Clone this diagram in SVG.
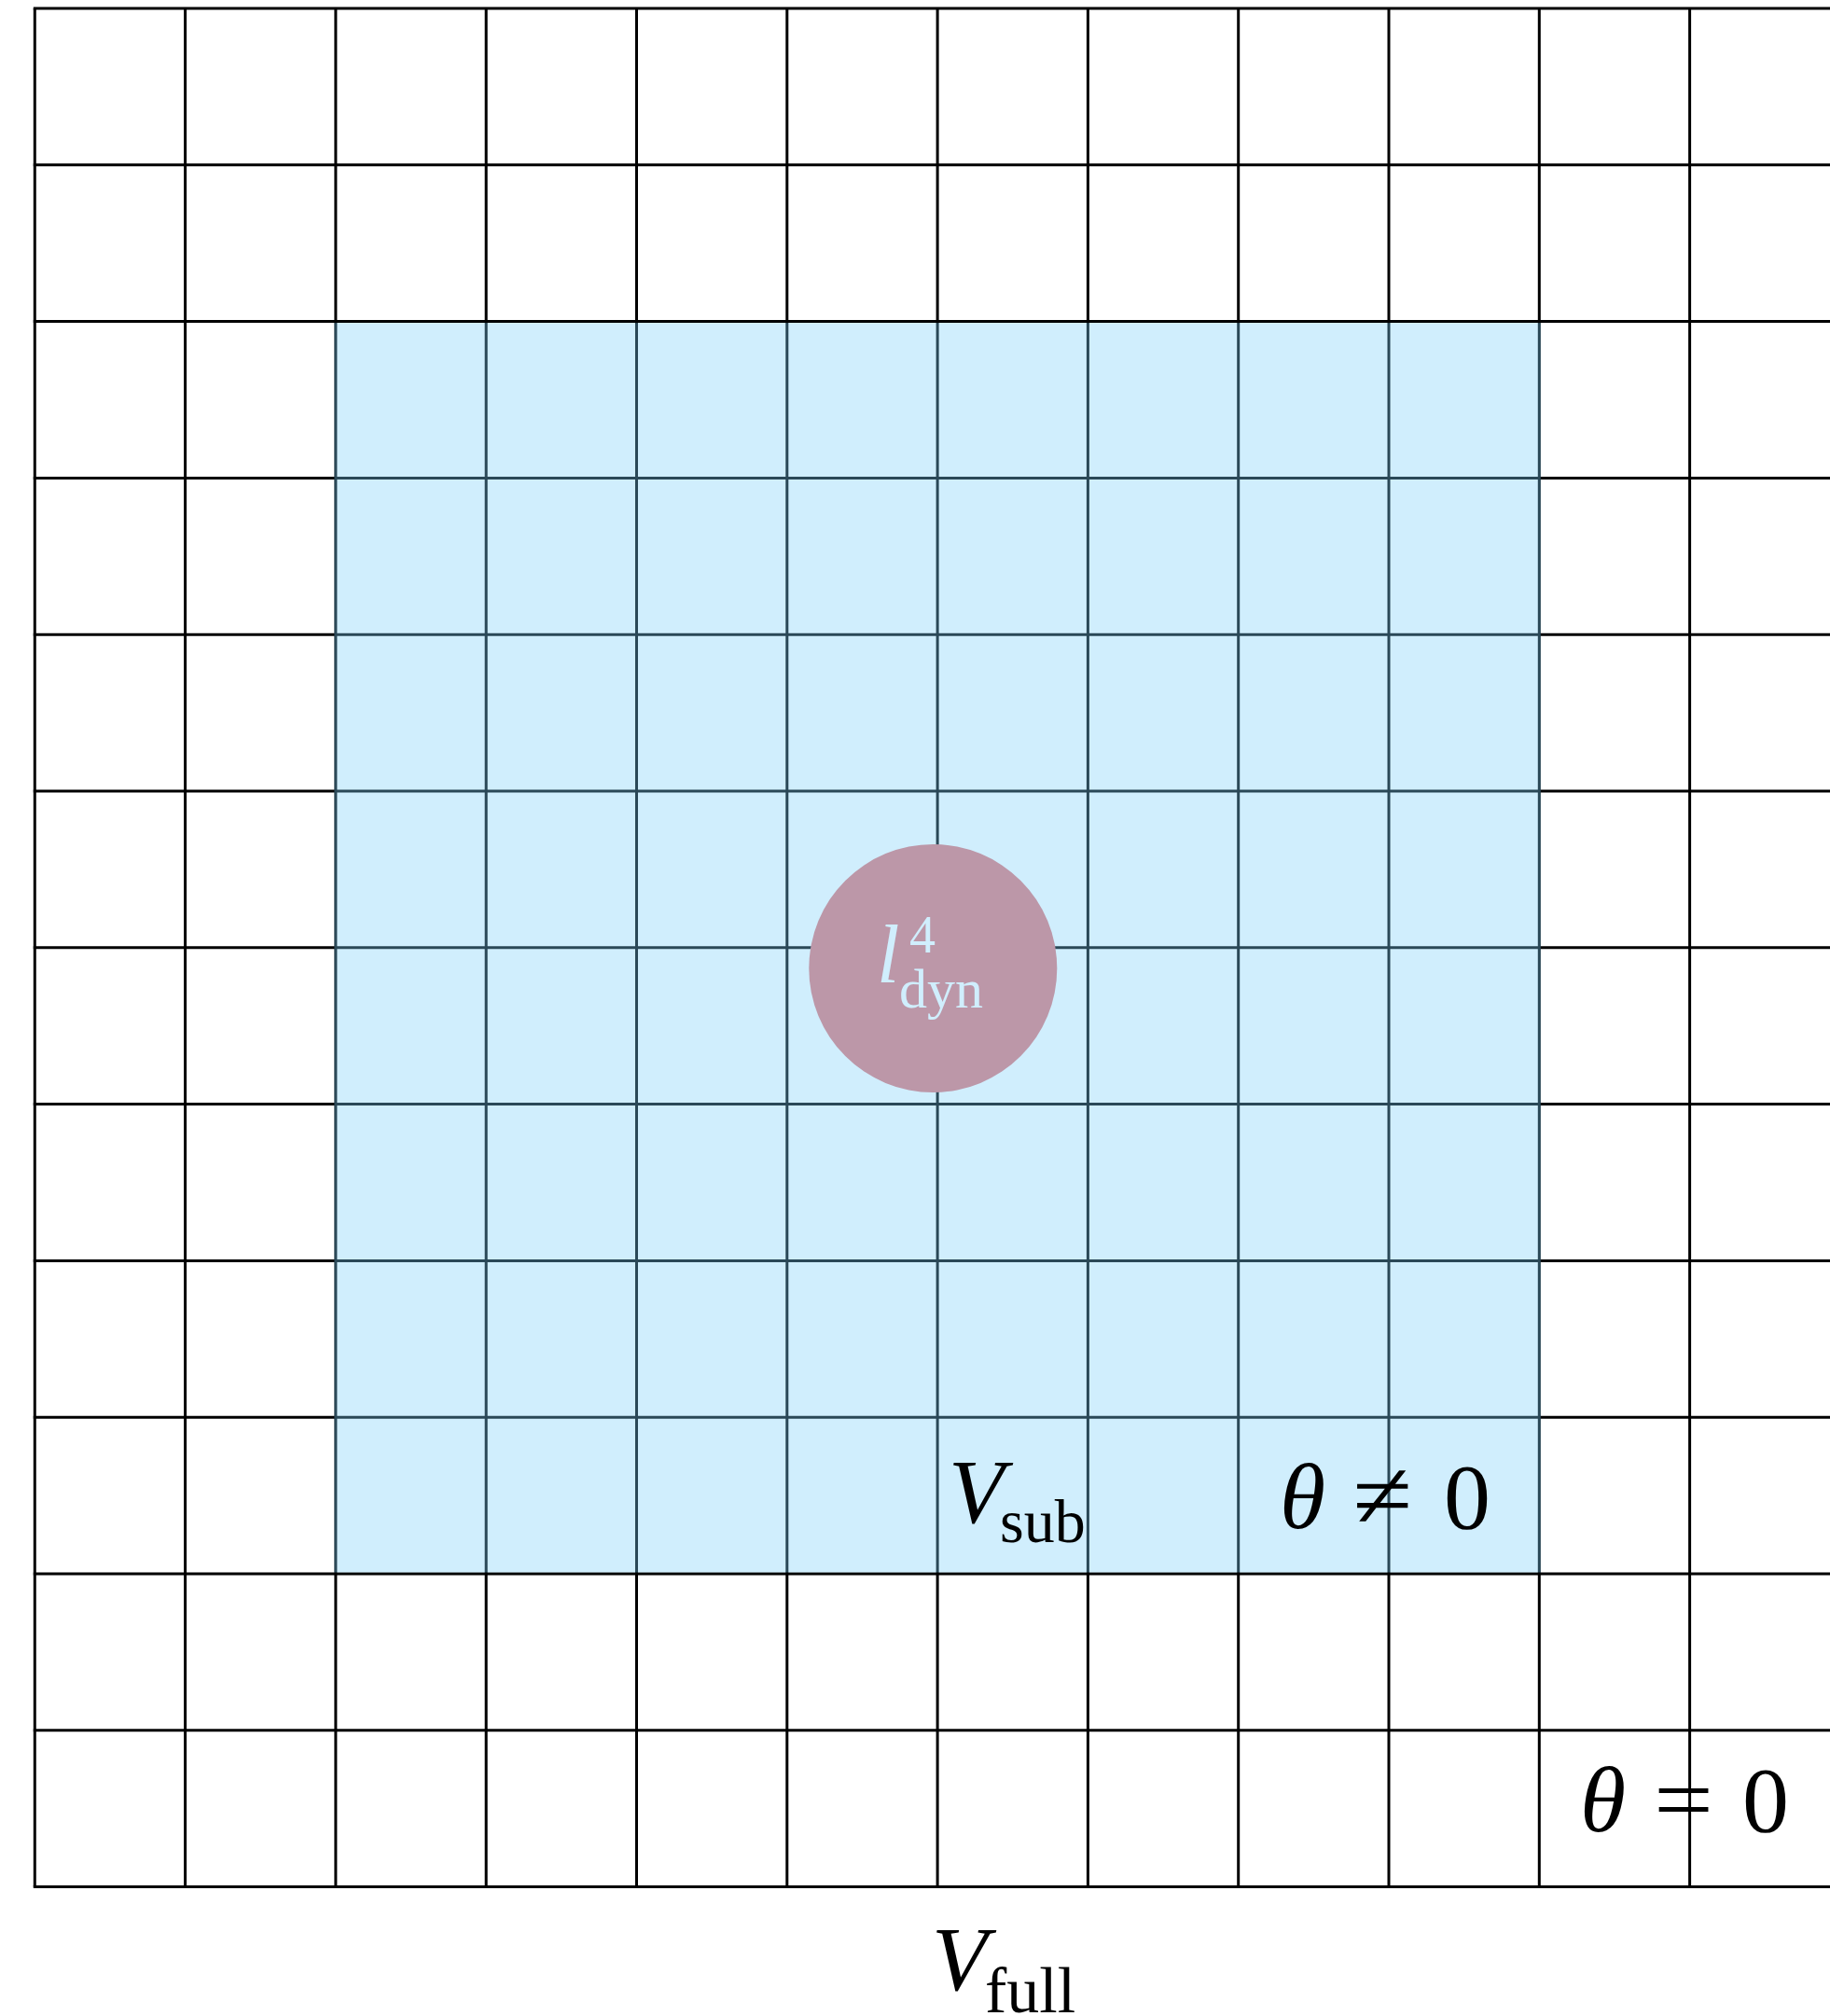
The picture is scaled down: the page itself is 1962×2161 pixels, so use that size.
<svg xmlns="http://www.w3.org/2000/svg" width="1962" height="2161" viewBox="0 0 1962 2161">
<style>
.grid line{stroke:#000;stroke-width:3;}
.m{font-family:"Liberation Serif","Times New Roman",serif;fill:#000;}
.it{font-style:italic;}
.light{fill:#d0eefd;}
</style>
<rect width="1962" height="2161" fill="#fff"/>
<g id="grid" class="grid">
<line x1="37.3" y1="9" x2="37.3" y2="2022.6"/>
<line x1="198.6" y1="9" x2="198.6" y2="2022.6"/>
<line x1="359.9" y1="9" x2="359.9" y2="2022.6"/>
<line x1="521.2" y1="9" x2="521.2" y2="2022.6"/>
<line x1="682.5" y1="9" x2="682.5" y2="2022.6"/>
<line x1="843.8" y1="9" x2="843.8" y2="2022.6"/>
<line x1="1005.1" y1="9" x2="1005.1" y2="2022.6"/>
<line x1="1166.4" y1="9" x2="1166.4" y2="2022.6"/>
<line x1="1327.7" y1="9" x2="1327.7" y2="2022.6"/>
<line x1="1489" y1="9" x2="1489" y2="2022.6"/>
<line x1="1650.3" y1="9" x2="1650.3" y2="2022.6"/>
<line x1="1811.6" y1="9" x2="1811.6" y2="2022.6"/>
<line x1="35.8" y1="9" x2="1962" y2="9"/>
<line x1="35.8" y1="176.8" x2="1962" y2="176.8"/>
<line x1="35.8" y1="344.6" x2="1962" y2="344.6"/>
<line x1="35.8" y1="512.4" x2="1962" y2="512.4"/>
<line x1="35.8" y1="680.2" x2="1962" y2="680.2"/>
<line x1="35.8" y1="848" x2="1962" y2="848"/>
<line x1="35.8" y1="1015.8" x2="1962" y2="1015.8"/>
<line x1="35.8" y1="1183.6" x2="1962" y2="1183.6"/>
<line x1="35.8" y1="1351.4" x2="1962" y2="1351.4"/>
<line x1="35.8" y1="1519.2" x2="1962" y2="1519.2"/>
<line x1="35.8" y1="1687" x2="1962" y2="1687"/>
<line x1="35.8" y1="1854.8" x2="1962" y2="1854.8"/>
<line x1="35.8" y1="2022.6" x2="1962" y2="2022.6"/>
</g>
<g id="region-sub">
<rect x="358.4" y="346.1" width="1293.4" height="1339.4" fill="rgb(120,207,250)" fill-opacity="0.35"/>
</g>
<g id="node-ldyn">
<circle cx="1000.3" cy="1038" r="133" fill="#bc97a8"/>
<text class="m light" y="1053"><tspan class="it" x="940" font-size="88">l</tspan><tspan x="975" y="1021" font-size="56">4</tspan><tspan x="964" y="1080" font-size="60">dyn</tspan></text>
</g>
<g id="label-vsub">
<text class="m" y="1632"><tspan class="it" x="1017" font-size="98">V</tspan><tspan x="1072" y="1653" font-size="66">sub</tspan></text>
</g>
<g id="label-theta-neq">
<text class="m it" x="1372" y="1638" font-size="100">θ</text>
<text class="m" x="1450" y="1638" font-size="104" textLength="64" lengthAdjust="spacingAndGlyphs">≠</text>
<text class="m" x="1548" y="1638" font-size="100">0</text>
</g>
<g id="label-theta-eq">
<text class="m it" x="1694" y="1963" font-size="100">θ</text>
<text class="m" x="1773" y="1963" font-size="100" textLength="64" lengthAdjust="spacingAndGlyphs">=</text>
<text class="m" x="1868" y="1963" font-size="100">0</text>
</g>
<g id="label-vfull">
<text class="m" y="2133"><tspan class="it" x="999" font-size="98">V</tspan><tspan x="1056" y="2157" font-size="70">full</tspan></text>
</g>
<g id="connectors"/>
</svg>
